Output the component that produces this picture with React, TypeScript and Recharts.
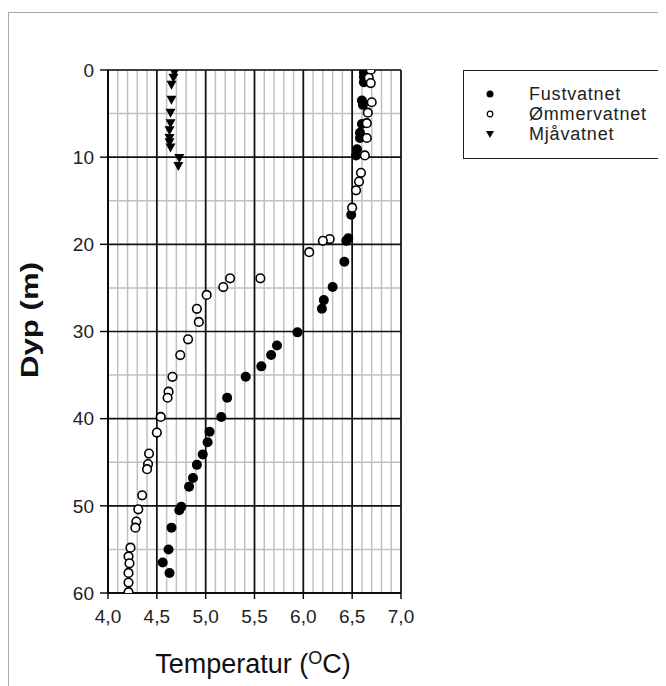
import React from 'react';
import { ScatterChart, Scatter, XAxis, YAxis, CartesianGrid } from 'recharts';

// Fustvatnet (filled circles)
const fustTemp = [6.62, 6.62, 6.62, 6.6, 6.61, 6.6, 6.58, 6.58, 6.55, 6.54, 6.49, 6.46, 6.44, 6.42, 6.3, 6.21, 6.19, 5.94, 5.73, 5.67, 5.57, 5.41, 5.22, 5.16, 5.04, 5.02, 4.97, 4.91, 4.87, 4.83, 4.75, 4.73, 4.65, 4.62, 4.56, 4.63];
const fustDepth = [0.3, 0.8, 1.4, 3.5, 4.0, 6.2, 7.2, 7.8, 9.1, 9.8, 16.6, 19.3, 19.6, 22.0, 24.9, 26.4, 27.4, 30.1, 31.6, 32.7, 34.0, 35.2, 37.6, 39.8, 41.5, 42.7, 44.1, 45.3, 46.8, 47.8, 50.1, 50.5, 52.5, 55.0, 56.5, 57.7];

// Ømmervatnet (open circles)
const ommerTemp = [6.69, 6.67, 6.69, 6.7, 6.66, 6.65, 6.65, 6.63, 6.59, 6.57, 6.54, 6.5, 6.27, 6.2, 6.06, 5.56, 5.25, 5.18, 5.01, 4.91, 4.93, 4.82, 4.74, 4.66, 4.62, 4.61, 4.54, 4.5, 4.42, 4.41, 4.4, 4.35, 4.31, 4.29, 4.28, 4.23, 4.21, 4.22, 4.21, 4.21, 4.21];
const ommerDepth = [0.0, 0.9, 1.5, 3.7, 4.9, 6.1, 7.8, 9.8, 11.8, 12.8, 13.8, 15.8, 19.4, 19.6, 20.9, 23.9, 23.9, 24.9, 25.8, 27.4, 28.9, 30.9, 32.7, 35.2, 36.9, 37.6, 39.8, 41.6, 44.0, 45.2, 45.8, 48.8, 50.4, 51.8, 52.5, 54.8, 55.8, 56.6, 57.7, 58.8, 59.9];

// Mjåvatnet (triangles)
const mjaTemp = [4.68, 4.67, 4.65, 4.65, 4.64, 4.64, 4.63, 4.63, 4.63, 4.64, 4.73, 4.72];
const mjaDepth = [0.3, 0.9, 1.7, 3.4, 4.9, 6.1, 6.9, 7.8, 8.3, 8.9, 10.1, 11.0];

const tempTicks = [4, 4.5, 5, 5.5, 6, 6.5, 7];
const tempMinorTicks = Array.from({ length: 31 }, (_, i) => Math.round((4 + i * 0.1) * 10) / 10);
const depthTicks = [0, 10, 20, 30, 40, 50, 60];
const depthMinorTicks = [5, 15, 25, 35, 45, 55];

const toPoints = (temp: number[], depth: number[]) => temp.map((t, i) => ({ t, d: depth[i] }));
const fust = toPoints(fustTemp, fustDepth);
const ommer = toPoints(ommerTemp, ommerDepth);
const mja = toPoints(mjaTemp, mjaDepth);

const font = '"Liberation Sans", Arial, sans-serif';

const FilledDot = (p: any) => <circle cx={p.cx} cy={p.cy} r={5} fill="#000" />;
const OpenDot = (p: any) => <circle cx={p.cx} cy={p.cy} r={4.3} fill="#fff" stroke="#000" strokeWidth={1.6} />;
const Tri = (p: any) => (
  <polygon points={`${p.cx - 5},${p.cy - 4} ${p.cx + 5},${p.cy - 4} ${p.cx},${p.cy + 5}`} fill="#000" />
);
const Empty = () => <g />;

const legendItems = [
  { name: 'Fustvatnet', icon: <circle cx={6} cy={6} r={3.5} fill="#000" /> },
  { name: 'Ømmervatnet', icon: <circle cx={6} cy={6} r={2.8} fill="#fff" stroke="#000" strokeWidth={1.2} /> },
  { name: 'Mjåvatnet', icon: <polygon points="2,3 10,3 6,10" fill="#000" /> },
];

const comma = (v: number) => v.toFixed(1).replace('.', ',');

export default function App() {
  return (
    <div style={{ position: 'relative', width: 658, height: 678, fontFamily: font }}>
      <div style={{ position: 'absolute', left: 0, top: 4, right: 0, bottom: 0, borderTop: '1px solid #a8a8a8', borderLeft: '1px solid #a8a8a8' }} />
      <ScatterChart width={658} height={640} margin={{ top: 62, right: 265, bottom: 25, left: 60 }} style={{ position: 'absolute', left: 0, top: 0 }}>
        <XAxis xAxisId="minorBottom" type="number" dataKey="t" domain={[4, 7]} allowDataOverflow ticks={tempMinorTicks} interval={0} orientation="bottom" height={0} mirror tick={Empty} axisLine={false} tickSize={4} tickLine={{ stroke: '#000' }} />
        <XAxis xAxisId="t" type="number" dataKey="t" domain={[4, 7]} allowDataOverflow ticks={tempTicks} interval={0} tickFormatter={comma} height={30} tickSize={6} tickMargin={11} axisLine={{ stroke: '#000', strokeWidth: 1.6 }} tickLine={{ stroke: '#000', strokeWidth: 1.4 }} tick={{ fontSize: 19, fill: '#222', fontFamily: font }} />
        <XAxis xAxisId="minorTop" type="number" dataKey="t" domain={[4, 7]} allowDataOverflow ticks={tempMinorTicks} interval={0} orientation="top" height={0} mirror tick={Empty} tickSize={4} axisLine={false} tickLine={{ stroke: '#000' }} />
        <YAxis yAxisId="d" type="number" dataKey="d" domain={[0, 60]} reversed allowDataOverflow ticks={depthTicks} interval={0} width={40} tickSize={8} tickMargin={6} axisLine={{ stroke: '#000', strokeWidth: 1.6 }} tickLine={{ stroke: '#000', strokeWidth: 1.4 }} tick={{ fontSize: 19, fill: '#222', fontFamily: font }} />
        <YAxis yAxisId="minorY" type="number" dataKey="d" domain={[0, 60]} reversed allowDataOverflow ticks={depthMinorTicks} interval={0} orientation="right" width={0} tick={Empty} tickLine={false} axisLine={false} />
        <CartesianGrid xAxisId="minorTop" yAxisId="minorY" stroke="#c0c0c0" strokeWidth={1.5} />
        <CartesianGrid xAxisId="t" yAxisId="d" stroke="#111" strokeWidth={1.7} />
        <Scatter data={fust} xAxisId="minorTop" yAxisId="minorY" shape={Empty} legendType="none" isAnimationActive={false} />
        <Scatter data={fust} xAxisId="minorBottom" yAxisId="d" shape={Empty} legendType="none" isAnimationActive={false} />
        <Scatter name="Mjåvatnet" data={mja} xAxisId="t" yAxisId="d" shape={Tri} isAnimationActive={false} />
        <Scatter name="Fustvatnet" data={fust} xAxisId="t" yAxisId="d" shape={FilledDot} isAnimationActive={false} />
        <Scatter name="Ømmervatnet" data={ommer} xAxisId="t" yAxisId="d" shape={OpenDot} isAnimationActive={false} />
      </ScatterChart>

      <div style={{ position: 'absolute', left: 455, top: 62, width: 196, height: 87, border: '1.5px solid #222', background: '#fff' }}>
        {legendItems.map((it, i) => (
          <div key={it.name} style={{ position: 'absolute', left: 0, top: 13 + i * 20, height: 20, display: 'flex', alignItems: 'center' }}>
            <svg width={12} height={12} style={{ marginLeft: 20 }}>{it.icon}</svg>
            <span style={{ marginLeft: 33, fontSize: 18, letterSpacing: 0.8, color: '#222', lineHeight: '20px' }}>{it.name}</span>
          </div>
        ))}
      </div>

      <div style={{ position: 'absolute', left: 245, top: 656, transform: 'translate(-50%, -50%)', fontSize: 27, color: '#111', whiteSpace: 'nowrap' }}>
        Temperatur (<sup style={{ fontSize: 18, verticalAlign: '0.5em', lineHeight: 0 }}>O</sup>C)
      </div>
      <div style={{ position: 'absolute', left: 22, top: 312, transform: 'translate(-50%, -50%) rotate(-90deg) scaleX(1.3)', fontSize: 24, fontWeight: 'bold', color: '#111', whiteSpace: 'nowrap' }}>
        Dyp (m)
      </div>
    </div>
  );
}
